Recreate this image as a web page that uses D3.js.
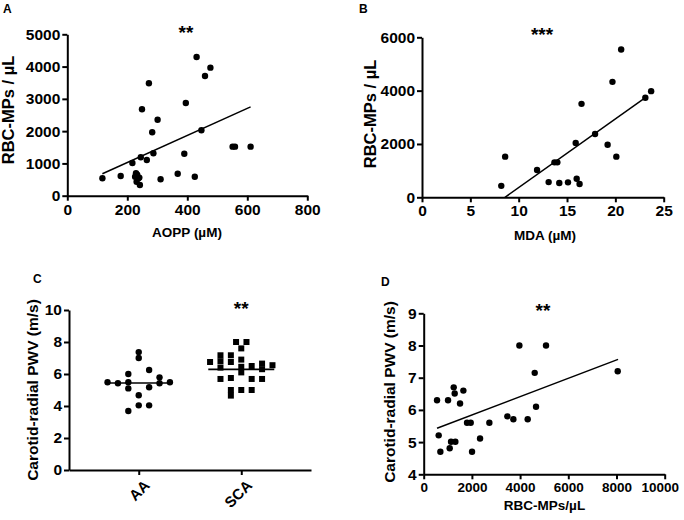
<!DOCTYPE html>
<html><head><meta charset="utf-8">
<script src="https://cdn.jsdelivr.net/npm/d3@7"></script>
<style>
body{margin:0;background:#fff}
text{font-family:"Liberation Sans",Arial,Helvetica,sans-serif;font-weight:bold;fill:#000}
</style>
</head><body>
<svg id="c" width="684" height="520" xmlns="http://www.w3.org/2000/svg"></svg>
<script>
// ---------- Panel A: AOPP vs RBC-MPs ----------
const aAopp = [117,178,217,226,229,231,237,242,233,240,245,249,265,272,283,287,301,311,368,390,395,425,431,447,459,477,551,559,611];
const aRbc  = [540,610,1013,590,694,434,539,331,650,560,1190,2677,1106,3482,1964,1313,2355,508,682,1301,2872,589,4298,2026,3708,3967,1520,1520,1520];
const aFitX = [117,611];
const aFitY = [680,2750];
const aXTicks = [0,200,400,600,800];
const aYTicks = [0,1000,2000,3000,4000,5000];

// ---------- Panel B: MDA vs RBC-MPs ----------
const bMda = [8.2,8.6,11.9,13.1,13.7,14.0,14.2,15.1,15.9,16.0,16.3,16.5,17.9,19.2,19.7,20.1,20.6,23.1,23.7];
const bRbc = [430,1525,1025,570,1310,1310,535,560,2040,695,500,3505,2375,1970,4330,1525,5540,3735,3980];
const bFitX = [8.58,23.25];
const bFitY = [0,3775];
const bXTicks = [0,5,10,15,20,25];
const bYTicks = [0,2000,4000,6000];

// ---------- Panel C: PWV by group ----------
const cGroups = ["AA","SCA"];
const cAAvals  = [5.48,5.42,6.0,5.48,5.1,7.37,7.0,4.67,4.04,3.69,4.04,6.25,5.17,5.79,5.42,5.48];
const cAAslot  = [-3,-2,-1,-1,-1,0,0,0,0,-1,1,1,1,2,2,3];
const cSCAvals = [8.0,8.0,7.6,7.17,7.17,6.75,6.8,6.75,6.9,6.4,6.45,6.5,6.65,6.55,6.1,6.3,5.69,5.75,5.69,5.69,5.0,4.65,5.0,5.0];
const cSCAslot = [-0.5,0.5,0,-2,-1,-3,-2,-1,0,-2,0,1,2,3,0,2,-2,-1,1,2,-1,-1,0,1];
const cMedians = [5.44,6.29];
const cYTicks = [0,2,4,6,8,10];

// ---------- Panel D: RBC-MPs vs PWV ----------
const dRbc = [553,622,692,1010,1079,1134,1245,1286,1314,1508,1646,1798,1950,2006,2338,2725,3472,3721,3970,4315,4606,4661,5076,8050];
const dPwv = [6.30,5.21,4.70,6.30,4.81,5.01,6.70,6.51,5.01,6.20,6.60,5.60,5.60,4.70,5.11,5.60,5.80,5.71,8.0,5.71,7.15,6.10,8.0,7.20];
const dFitX = [553,8064];
const dFitY = [5.43,7.57];
const dXTicks = [0,2000,4000,6000,8000,10000];
const dYTicks = [4,5,6,7,8,9];

const svg = d3.select("#c");
svg.append("rect").attr("width",684).attr("height",520).attr("fill","#fff");

function styleAxis(g, fs){
  g.select(".domain").attr("stroke","#000").attr("stroke-width",2);
  g.selectAll(".tick line").attr("stroke","#000").attr("stroke-width",2);
  g.selectAll(".tick text").style("font-size",fs||"15.5px").style("font-weight","bold").attr("fill","#000")
   .style("font-family",'"Liberation Sans",Arial,sans-serif');
}

function scatterPanel(o){
  const x = d3.scaleLinear().domain(o.xDom).range(o.xRange);
  const y = d3.scaleLinear().domain(o.yDom).range(o.yRange);
  const gx = svg.append("g").attr("transform",`translate(0,${o.yRange[0]})`)
    .call(d3.axisBottom(x).tickValues(o.xTicks).tickSize(5).tickSizeOuter(0).tickPadding(3).tickFormat(d3.format("d")));
  styleAxis(gx, o.xTickFont);
  if (o.lastDx) gx.selectAll(".tick text").filter((d,i,n)=>i===n.length-1).attr("dx",o.lastDx);
  const gy = svg.append("g").attr("transform",`translate(${o.xRange[0]},0)`)
    .call(d3.axisLeft(y).tickValues(o.yTicks).tickSize(5).tickSizeOuter(0).tickPadding(2).tickFormat(d3.format("d")));
  styleAxis(gy);
  svg.append("line")
    .attr("x1",x(o.fitX[0])).attr("y1",y(o.fitY[0]))
    .attr("x2",x(o.fitX[1])).attr("y2",y(o.fitY[1]))
    .attr("stroke","#000").attr("stroke-width",1.5);
  svg.append("g").selectAll("circle").data(o.xs).join("circle")
    .attr("cx",(d)=>x(d)).attr("cy",(d,i)=>y(o.ys[i])).attr("r",3.2).attr("fill","#000");
  svg.append("text").attr("x",o.xTitle[0]).attr("y",o.xTitle[1]).attr("text-anchor","middle")
    .style("font-size","13.5px").text(o.xLabel);
  svg.append("text").attr("transform",`translate(${o.yTitle[0]},${o.yTitle[1]}) rotate(-90)`)
    .attr("text-anchor","middle").style("font-size",o.yFont).text(o.yLabel);
  svg.append("text").attr("x",o.star[0]).attr("y",o.star[1]).attr("text-anchor","middle")
    .style("font-size","19px").text(o.starText);
  svg.append("text").attr("x",o.letter[0]).attr("y",o.letter[1]).style("font-size","12px")
    .text(o.letterText);
}

scatterPanel({xDom:[0,800],xRange:[67.3,307.3],yDom:[0,5000],yRange:[195.7,34.3],
  xTicks:aXTicks,yTicks:aYTicks,xs:aAopp,ys:aRbc,fitX:aFitX,fitY:aFitY,
  xLabel:"AOPP (µM)",xTitle:[187,237],yLabel:"RBC-MPs / µL",yTitle:[13.5,110],yFont:"16.5px",
  star:[186,39],starText:"**",letter:[3,13],letterText:"A"});

scatterPanel({xDom:[0,25],xRange:[422,663.7],yDom:[0,6000],yRange:[197.3,37.3],
  xTicks:bXTicks,yTicks:bYTicks,xs:bMda,ys:bRbc,fitX:bFitX,fitY:bFitY,
  xLabel:"MDA (µM)",xTitle:[545,240],yLabel:"RBC-MPs / µL",yTitle:[375.5,114],yFont:"16.5px",
  star:[542,41],starText:"***",letter:[359,13],letterText:"B"});

scatterPanel({xDom:[0,10000],xRange:[423.7,664.7],yDom:[4,9],yRange:[474.3,313.3],
  xTicks:dXTicks,yTicks:dYTicks,xs:dRbc,ys:dPwv,fitX:dFitX,fitY:dFitY,xTickFont:"13.5px",lastDx:"-5",
  xLabel:"RBC-MPs/µL",xTitle:[544.5,510],yLabel:"Carotid-radial PWV (m/s)",yTitle:[395,392],yFont:"15.5px",
  star:[543,317],starText:"**",letter:[381,286],letterText:"D"});

// Panel C
(function(){
  const x = d3.scalePoint().domain(cGroups).range([69,311]).padding(0.68);
  const y = d3.scaleLinear().domain([0,10]).range([470,310]);
  const slotW = 10.4;
  const gx = svg.append("g").attr("transform","translate(0,470)")
    .call(d3.axisBottom(x).tickSize(5).tickSizeOuter(0).tickFormat(""));
  styleAxis(gx);
  gx.selectAll(".tick").append("text")
    .attr("transform","translate(4,9) rotate(-45)").attr("text-anchor","end").attr("dy","0.7em")
    .attr("fill","#000").style("font-size","15px").text(d=>d);
  const gy = svg.append("g").attr("transform","translate(69,0)")
    .call(d3.axisLeft(y).tickValues(cYTicks).tickSize(5).tickSizeOuter(0).tickPadding(2));
  styleAxis(gy);
  svg.append("g").selectAll("circle").data(cAAvals).join("circle")
    .attr("cx",(d,i)=>x("AA")+cAAslot[i]*slotW).attr("cy",d=>y(d)).attr("r",3.2).attr("fill","#000");
  svg.append("g").selectAll("rect").data(cSCAvals).join("rect")
    .attr("x",(d,i)=>x("SCA")+cSCAslot[i]*slotW-3).attr("y",d=>y(d)-3)
    .attr("width",6).attr("height",6).attr("fill","#000");
  svg.append("g").selectAll("line").data(cGroups).join("line")
    .attr("x1",d=>x(d)-33).attr("x2",d=>x(d)+33)
    .attr("y1",(d,i)=>y(cMedians[i])).attr("y2",(d,i)=>y(cMedians[i]))
    .attr("stroke","#000").attr("stroke-width",1.6);
  svg.append("text").attr("transform","translate(38,390) rotate(-90)").attr("text-anchor","middle")
    .style("font-size","15.5px").text("Carotid-radial PWV (m/s)");
  svg.append("text").attr("x",x("SCA")).attr("y",315).attr("text-anchor","middle")
    .style("font-size","19px").text("**");
  svg.append("text").attr("x",33).attr("y",283).style("font-size","12px").text("C");
})();
</script>
</body></html>
